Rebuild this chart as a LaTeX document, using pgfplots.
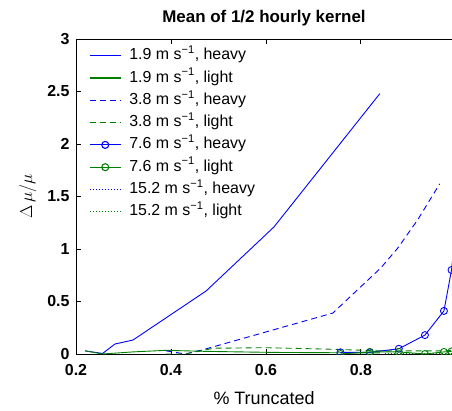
\documentclass[border=0pt]{standalone}
\usepackage{fontspec}
\setmainfont{Liberation Sans}
\usepackage{pgfplots}
\pgfplotsset{compat=1.18}
\definecolor{mblue}{rgb}{0,0,1}
\definecolor{mgreen}{rgb}{0,0.5,0}
\newcommand{\ms}{m s\textsuperscript{−1}}
\begin{document}
\begin{tikzpicture}
\begin{axis}[
  scale only axis, width=376bp, height=315bp,
  xmin=0.2, xmax=0.992, ymin=0, ymax=3,
  axis x line*=box, axis y line*=left,
  axis line style={line width=0.9bp},
  xtick={0.2,0.4,0.6,0.8}, ytick={0,0.5,1,1.5,2,2.5,3},
  tick align=inside, major tick length=5bp,
  tick style={line width=0.8bp, black},
  /pgf/number format/assume math mode=true,
  ticklabel style={font=\bfseries\fontsize{16}{16}\selectfont},
  xticklabel style={yshift=-7bp},
  yticklabel style={xshift=-3bp},
  title={\bfseries Mean of 1/2 hourly kernel},
  title style={font=\fontsize{17}{17}\selectfont, yshift=3bp},
  xlabel={\% Truncated},
  xlabel style={font=\fontsize{18}{18}\selectfont, yshift=-9bp},
  ylabel={$\Delta\,\mu/\mu$},
  ylabel style={font=\fontsize{17}{17}\selectfont, yshift=4bp},
  clip marker paths=true,
  legend cell align=left,
  legend image code/.code={%
    \draw[mark repeat=2,mark phase=2,#1] plot coordinates {(0bp,0bp)(15.5bp,0bp)(31bp,0bp)};},
  legend image post style={line width=1.1bp},
  legend style={draw=none, fill=none, at={(0,1)}, anchor=north west, xshift=13bp, yshift=-7bp,
    inner sep=0pt, column sep=6bp, row sep=3.3bp,
    font=\fontsize{16}{18}\selectfont,
    nodes={text height=11.5bp, text depth=3.5bp, inner sep=2bp}},
  every axis plot/.append style={line width=0.9bp},
]
\coordinate (sw) at (rel axis cs:0,0);
\coordinate (ne) at (rel axis cs:1,1);
% 1.9 heavy
\addplot[color=mblue, solid] coordinates {(0.219,0.03)(0.256,0.005)(0.282,0.095)(0.32,0.133)(0.474,0.60)(0.617,1.21)(0.84,2.48)};
\addlegendentry{1.9 \ms, heavy}
% 1.9 light
\addplot[color=mgreen, solid] coordinates {(0.219,0.03)(0.256,0.0)(0.32,0.02)(0.39,0.035)(0.474,0.025)(0.617,0.015)(0.84,0.01)};
\addlegendentry{1.9 \ms, light}
% 3.8 heavy
\addplot[color=mblue, dash pattern=on 6bp off 4bp] coordinates {(0.39,0.03)(0.43,0.0)(0.467,0.04)(0.741,0.39)(0.842,0.82)(0.878,1.01)(0.92,1.28)(0.966,1.62)};
\addlegendentry{3.8 \ms, heavy}
% 3.8 light
\addplot[color=mgreen, dash pattern=on 6bp off 4bp] coordinates {(0.39,0.0)(0.43,0.0)(0.49,0.055)(0.6,0.06)(0.741,0.045)(0.842,0.03)(0.966,0.03)(0.99,0.035)};
\addlegendentry{3.8 \ms, light}
% 7.6 heavy
\addplot[color=mblue, solid, mark=o, mark size=3.5bp, mark options={solid}] coordinates {(0.757,0.016)(0.819,0.016)(0.88,0.05)(0.935,0.18)(0.975,0.41)(0.991,0.80)(1.0,1.2)};
\addlegendentry{7.6 \ms, heavy}
% 7.6 light
\addplot[color=mgreen, solid, mark=o, mark size=3.5bp, mark options={solid}] coordinates {(0.757,0.0)(0.819,0.02)(0.88,0.02)(0.935,0.0)(0.975,0.02)(0.991,0.025)};
\addlegendentry{7.6 \ms, light}
% 15.2 heavy
\addplot[color=mblue, dash pattern=on 1bp off 2bp] coordinates {(0.85,0.003)(0.99,0.003)};
\addlegendentry{15.2 \ms, heavy}
% 15.2 light
\addplot[color=mgreen, dash pattern=on 1bp off 2bp] coordinates {(0.85,0.003)(0.99,0.003)};
\addlegendentry{15.2 \ms, light}
\end{axis}
\pgfresetboundingbox
\path[use as bounding box] ([xshift=-76bp,yshift=-57bp]sw) rectangle ([yshift=39bp]ne);
\end{tikzpicture}
\end{document}
